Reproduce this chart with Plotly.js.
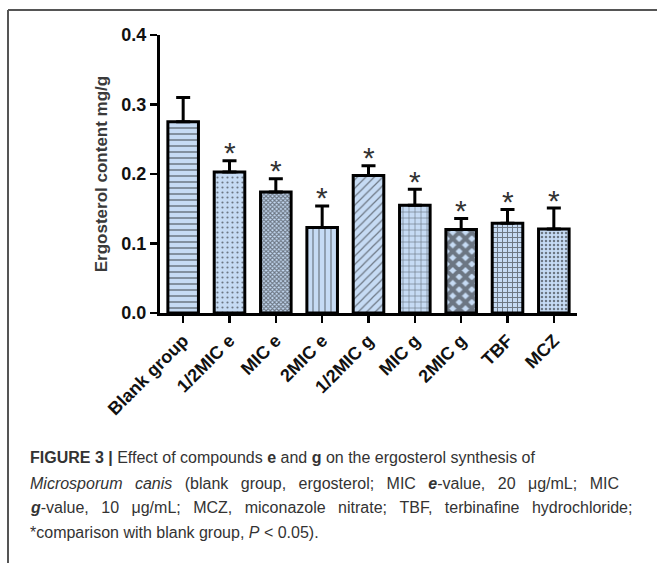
<!DOCTYPE html>
<html>
<head>
<meta charset="utf-8">
<script src="https://cdn.plot.ly/plotly-3.0.1.min.js"></script>
<style>
html,body{margin:0;padding:0;background:#fff;}
#chart{width:657px;height:563px;}
</style>
</head>
<body>
<div id="chart"></div>
<script>
// ---- data ----
const categories = ["Blank group", "1/2MIC e", "MIC e", "2MIC e", "1/2MIC g", "MIC g", "2MIC g", "TBF", "MCZ"];
const ergosterol = [0.275, 0.203, 0.174, 0.123, 0.198, 0.155, 0.120, 0.129, 0.121];
const errorSD    = [0.035, 0.016, 0.019, 0.031, 0.014, 0.023, 0.016, 0.020, 0.030];
const significant = [false, true, true, true, true, true, true, true, true];
const yTicks = [0.0, 0.1, 0.2, 0.3, 0.4];
const yTickLabels = ["0.0", "0.1", "0.2", "0.3", "0.4"];
const patternShapes = ["-", ".", "x", "|", "/", "+", "x", "+", "."];
const captionLines = [
  "<b>FIGURE 3 |</b> Effect of compounds <b>e</b> and <b>g</b> on the ergosterol synthesis of",
  "<i>Microsporum canis</i> (blank group, ergosterol; MIC <b><i>e</i></b>-value, 20 μg/mL; MIC",
  "<b><i>g</i></b>-value, 10 μg/mL; MCZ, miconazole nitrate; TBF, terbinafine hydrochloride;",
  "*comparison with blank group, <i>P</i> &lt; 0.05)."
];

// ---- styling / geometry ----
const patternSizes  = [6, 5, 3, 6, 6, 6, 9, 5, 4];
const patternSolid  = [0.25, 0.15, 0.6, 0.2, 0.2, 0.2, 0.7, 0.35, 0.3];
const captionJustify = [false, true, true, false];
const W = 657, H = 563;
const L = 160, R = 577, T = 35, B = 313;
const pw = R - L, ph = B - T;
const px2paper = x => (x - L) / pw;
const py2paper = y => (B - y) / ph;
const FONT = "Liberation Sans, Arial, sans-serif";

const trace = {
  type: "bar",
  x: categories,
  y: ergosterol,
  width: 0.66,
  marker: {
    color: "#c6dbf4",
    line: { color: "#000", width: 3 },
    pattern: {
      shape: patternShapes,
      size: patternSizes,
      solidity: patternSolid,
      fgcolor: "#111",
      bgcolor: "#c6dbf4",
      fillmode: "overlay"
    }
  },
  error_y: {
    type: "data",
    symmetric: false,
    array: errorSD,
    arrayminus: errorSD.map(() => 0),
    color: "#000",
    thickness: 3,
    width: 7
  },
  hoverinfo: "x+y"
};

const annotations = [];
categories.forEach((c, i) => {
  if (significant[i]) {
    annotations.push({
      x: c, y: ergosterol[i] + errorSD[i],
      xref: "x", yref: "y",
      text: "*", showarrow: false,
      yanchor: "middle", yshift: 8,
      font: { family: FONT, size: 30, color: "#333" }
    });
  }
});
const capY = [458, 483, 507, 532];
captionLines.forEach((t, i) => {
  const txt = captionJustify[i] ? t.replace(/ /g, " \u2002") : t;
  annotations.push({
    x: px2paper(28), y: py2paper(capY[i]),
    xref: "paper", yref: "paper",
    xanchor: "left", yanchor: "middle", align: "left",
    text: txt, showarrow: false,
    font: { family: FONT, size: 16, color: "#333" }
  });
});

const layout = {
  width: W, height: H,
  margin: { l: L, r: W - R, t: T, b: H - B, pad: 0 },
  paper_bgcolor: "#fff",
  plot_bgcolor: "rgba(0,0,0,0)",
  showlegend: false,
  bargap: 0.3,
  xaxis: {
    type: "category",
    range: [-0.5, 8.5],
    showline: true, linecolor: "#000", linewidth: 3,
    ticks: "outside", ticklen: 7, tickwidth: 2.5, tickcolor: "#000",
    tickangle: -45,
    tickfont: { family: FONT, size: 18, color: "#111", weight: "bold" },
    showgrid: false, zeroline: false, fixedrange: true
  },
  yaxis: {
    range: [0, 0.4],
    tickvals: yTicks, ticktext: yTickLabels,
    showline: true, linecolor: "#000", linewidth: 3,
    ticks: "outside", ticklen: 7, tickwidth: 2.5, tickcolor: "#000",
    tickfont: { family: FONT, size: 18, color: "#111", weight: "bold" },
    title: { text: "Ergosterol content mg/g", standoff: 10,
      font: { family: FONT, size: 17, color: "#3a3a3a", weight: "bold" } },
    showgrid: false, zeroline: false, fixedrange: true
  },
  annotations: annotations,
  shapes: [
    { type: "line", xref: "paper", yref: "paper",
      x0: px2paper(8), y0: py2paper(10), x1: px2paper(660), y1: py2paper(10),
      line: { color: "#555", width: 2 } },
    { type: "line", xref: "paper", yref: "paper",
      x0: px2paper(8), y0: py2paper(10), x1: px2paper(8), y1: py2paper(566),
      line: { color: "#555", width: 2 } }
  ]
};

Plotly.newPlot("chart", [trace], layout, { displayModeBar: false, staticPlot: true });
</script>
</body>
</html>
